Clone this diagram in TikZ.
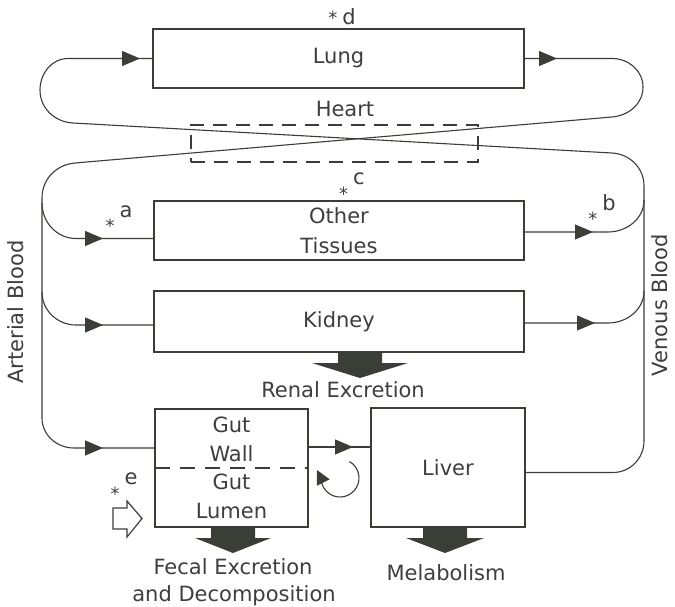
\documentclass[tikz,border=0pt]{standalone}
\usepackage{fontspec}
\setmainfont{DejaVu Sans}
\usepackage{xcolor}
\usetikzlibrary{arrows.meta,decorations.markings}

\definecolor{ink}{RGB}{58,62,54}
\definecolor{txt}{RGB}{62,62,62}
\newcommand\lowstar{\raisebox{-16pt}{\fontsize{18}{20}\selectfont*}}

\begin{document}
\begin{tikzpicture}[x=1pt, y=-1pt,
  font=\fontsize{21}{30}\selectfont,
  organ/.style={rectangle, draw=ink, line width=1.8pt, inner sep=0pt, outer sep=0pt, align=center, text=txt},
  chamber/.style={rectangle, draw=ink, line width=1.1pt, dash pattern=on 14pt off 9pt, inner sep=0pt, outer sep=0pt},
  vessel/.style={ink, line width=1.1pt},
  head at/.style={postaction={decorate, decoration={markings, mark=at position #1 with {\arrow{Triangle[length=18pt,width=15pt]}}}}},
  caption/.style={text=txt, anchor=base, align=center},
  site/.style={text=txt, anchor=base},
  drain head/.store in=\drainhead, drain head=40,
  drain/.pic={\fill[ink] (-22,0) -- (22,0) -- (22,11) -- (\drainhead,11) -- (0,26) -- (-\drainhead,11) -- (-22,11) -- cycle;}
]
\fill[white] (0,0) rectangle (675,607);
\useasboundingbox (0,0) rectangle (675,607);

% Organs
\node[organ, minimum width=371pt, minimum height=59pt] (lung) at (338.5,58.5) {Lung};
\node[organ, minimum width=370pt, minimum height=59pt] (tissues) at (339,230.5) {Other\\Tissues};
\node[organ, minimum width=370pt, minimum height=61pt] (kidney) at (339,321.5) {Kidney};
\node[organ, minimum width=153pt, minimum height=118pt, font=\fontsize{21}{28.5}\selectfont] (gut) at (231.5,468) {Gut\\Wall\\Gut\\Lumen};
\node[organ, minimum width=154pt, minimum height=119pt] (liver) at (448,467.5) {Liver};
\node[chamber, minimum width=287pt, minimum height=37pt] (heart) at (334.5,143.5) {};
\draw[ink, line width=1.1pt, dash pattern=on 15pt off 10pt] (gut.west) -- (gut.east);

% Labels
\node[caption] (heartlbl) at (345,117) {Heart};
\node[caption] (renal) at (343,397) {Renal Excretion};
\node[caption] (fecal) at (233,574) {Fecal Excretion};
\node[caption] (decomp) at (234,601) {and Decomposition};
\node[caption] (metab) at (446,580) {Melabolism};
\node[rotate=90, text=txt] (arterial) at (16,312) {Arterial Blood};
\node[rotate=90, text=txt] (venous) at (660,305) {Venous Blood};

% Sampling sites
\node[site] (sa) at (119,217) {\lowstar\hspace{5pt}a};
\node[site] (sb) at (602,210) {\lowstar\hspace{5pt}b};
\node[site] (sc) at (352,185) {\lowstar\hspace{5pt}c};
\node[site] (sd) at (342,25) {{\fontsize{18}{20}\selectfont*}\hspace{5pt}d};
\node[site] (se) at (124,484) {\lowstar\hspace{5pt}e};

% Arterial side
\draw[vessel, head at=33pt, head at=-52pt] (lung.east) -- (612,58.5) to[out=0,in=90] (643,87) to[out=-90,in=5] (612,117) -- (75,163) to[out=185,in=90] (42,198) -- (42,418) to[out=-90,in=180] (74,448) -- ([yshift=20pt]gut.west);
\coordinate (art1) at (42,203);
\coordinate (art2) at (42,292);
\draw[vessel, head at=-51pt] (art1) to[out=-90,in=180] (76,238.5) -- ([yshift=-8pt]tissues.west);
\draw[vessel, head at=-51pt] (art2) to[out=-90,in=180] (76,325) -- ([yshift=-3.5pt]kidney.west);

% Venous side
\draw[vessel, head at=-13pt] ([yshift=-5pt]liver.east) -- (613,472.5) to[out=0,in=-90] (644,441) -- (644,186) to[out=90,in=-3] (612,153) -- (73,123) to[out=177,in=-90] (40,90) to[out=90,in=180] (68,58.5) -- (lung.west);
\coordinate (ven1) at (644,200);
\coordinate (ven2) at (644,291);
\draw[vessel, head at=69pt] ([yshift=-1.5pt]tissues.east) -- (608,232) to[out=0,in=-90] (ven1);
\draw[vessel, head at=71pt] ([yshift=-1.5pt]kidney.east) -- (608,323) to[out=0,in=-90] (ven2);

% Gut to liver, recycling
\draw[vessel, head at=45pt] ([yshift=21pt]gut.east) -- ([yshift=20.5pt]liver.west);
\coordinate (cyc) at (340,478);
\draw[vessel, -{Triangle[length=14pt,width=14pt]}] ([shift={(60:19pt)}]cyc) arc[start angle=60, end angle=-180, radius=19pt] -- ++(-4pt,8pt);

% Elimination
\pic[drain head=48] (renalflow) at ([xshift=21pt]kidney.south) {drain};
\pic[drain head=38] (fecalflow) at ([xshift=1.5pt]gut.south) {drain};
\pic[drain head=39] (metabflow) at ([xshift=-3pt]liver.south) {drain};

% Oral dose
\draw[ink, line width=1.2pt] (113,508) -- (127,508) -- (127,501) -- (142,518.5) -- (127,537) -- (127,529) -- (113,529) -- cycle;

\end{tikzpicture}
\end{document}
